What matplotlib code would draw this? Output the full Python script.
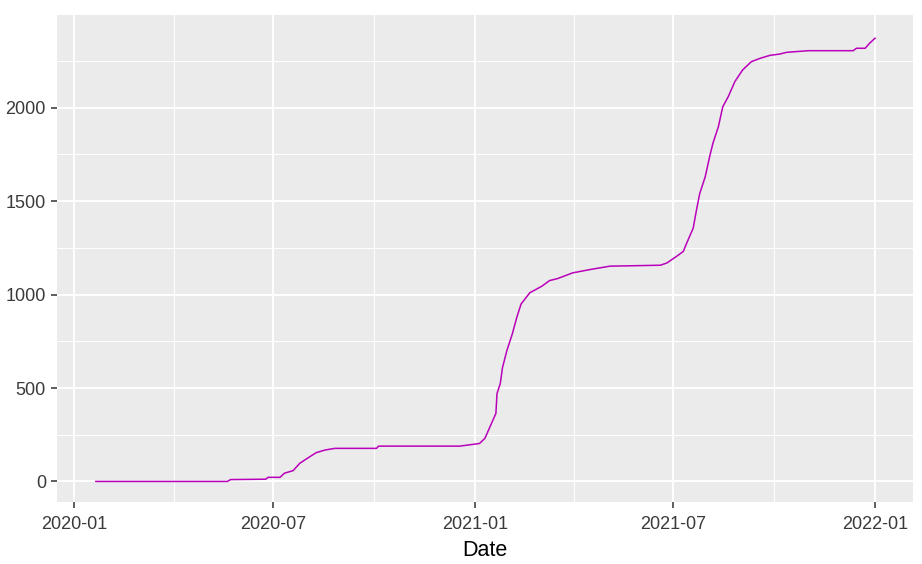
import matplotlib
matplotlib.use("Agg")
import matplotlib.pyplot as plt
import numpy as np
import pandas as pd

dates = ["2020-01-21", "2020-05-20", "2020-05-23", "2020-06-24", "2020-06-26",
         "2020-07-07", "2020-07-11", "2020-07-19", "2020-07-25", "2020-08-01",
         "2020-08-09", "2020-08-17", "2020-08-26", "2020-10-03", "2020-10-05",
         "2020-12-18", "2021-01-05", "2021-01-10", "2021-01-16", "2021-01-20",
         "2021-01-21", "2021-01-24", "2021-01-26", "2021-01-30", "2021-02-04",
         "2021-02-08", "2021-02-12", "2021-02-20", "2021-03-03", "2021-03-10",
         "2021-03-17", "2021-03-31", "2021-04-16", "2021-05-04", "2021-06-19",
         "2021-06-25", "2021-07-04", "2021-07-10", "2021-07-13", "2021-07-19",
         "2021-07-22", "2021-07-25", "2021-07-30", "2021-08-03", "2021-08-06",
         "2021-08-11", "2021-08-15", "2021-08-20", "2021-08-26", "2021-09-02",
         "2021-09-10", "2021-09-18", "2021-09-27", "2021-10-06", "2021-10-12",
         "2021-11-01", "2021-12-12", "2021-12-15", "2021-12-23", "2021-12-27",
         "2022-01-01"]
values = [0, 0, 10, 12, 22,
          22, 44, 58, 97, 124,
          154, 168, 177, 177, 189,
          189, 203, 231, 311, 364,
          470, 524, 609, 700, 790,
          877, 950, 1010, 1045, 1075,
          1085, 1116, 1134, 1152, 1157,
          1169, 1205, 1231, 1274, 1355,
          1452, 1541, 1630, 1737, 1809,
          1898, 2005, 2059, 2139, 2201,
          2246, 2264, 2280, 2287, 2296,
          2305, 2305, 2318, 2318, 2345,
          2372]
x_major = ["2020-01-01", "2020-07-01", "2021-01-01", "2021-07-01", "2022-01-01"]
x_minor = ["2020-04-01", "2020-10-01", "2021-04-01", "2021-10-01"]
x_labels = ["2020-01", "2020-07", "2021-01", "2021-07", "2022-01"]
y_major = [0, 500, 1000, 1500, 2000]
y_minor = [250, 750, 1250, 1750, 2250]

plt.rcParams['font.family'] = ['Liberation Sans', 'DejaVu Sans']

fig = plt.figure(figsize=(9.22, 5.64), dpi=100)
ax = fig.add_axes([57/922, 1-502/564, (913-57)/922, (502-15)/564])
ax.set_facecolor("#EBEBEB")

d = pd.to_datetime(dates)
ax.plot(d, values, color="#BA00BA", lw=1.1, zorder=3)

base = pd.Timestamp("2020-01-01")
ax.set_xlim(base - pd.Timedelta(days=15.5), base + pd.Timedelta(days=765.6))
ax.set_ylim(-110, 2496)

ax.set_xticks(pd.to_datetime(x_major))
ax.set_xticklabels(x_labels)
ax.set_xticks(pd.to_datetime(x_minor), minor=True)
ax.set_yticks(y_major)
ax.set_yticklabels([str(v) for v in y_major])
ax.set_yticks(y_minor, minor=True)

ax.grid(which="major", color="white", lw=1.4, zorder=1)
ax.grid(which="minor", color="white", lw=0.7, zorder=1)
ax.set_axisbelow(True)

for s in ax.spines.values():
    s.set_visible(False)

ax.tick_params(which="major", length=4, width=1.1, color="#333333",
               labelsize=13, labelcolor="#3A3A3A")
ax.tick_params(axis="x", which="major", pad=6)
ax.tick_params(axis="y", which="major", pad=4)
ax.tick_params(which="minor", length=0)

ax.set_xlabel("Date", fontsize=15.5, color="black", labelpad=5)

fig.savefig("out.png", dpi=100, facecolor="white")
